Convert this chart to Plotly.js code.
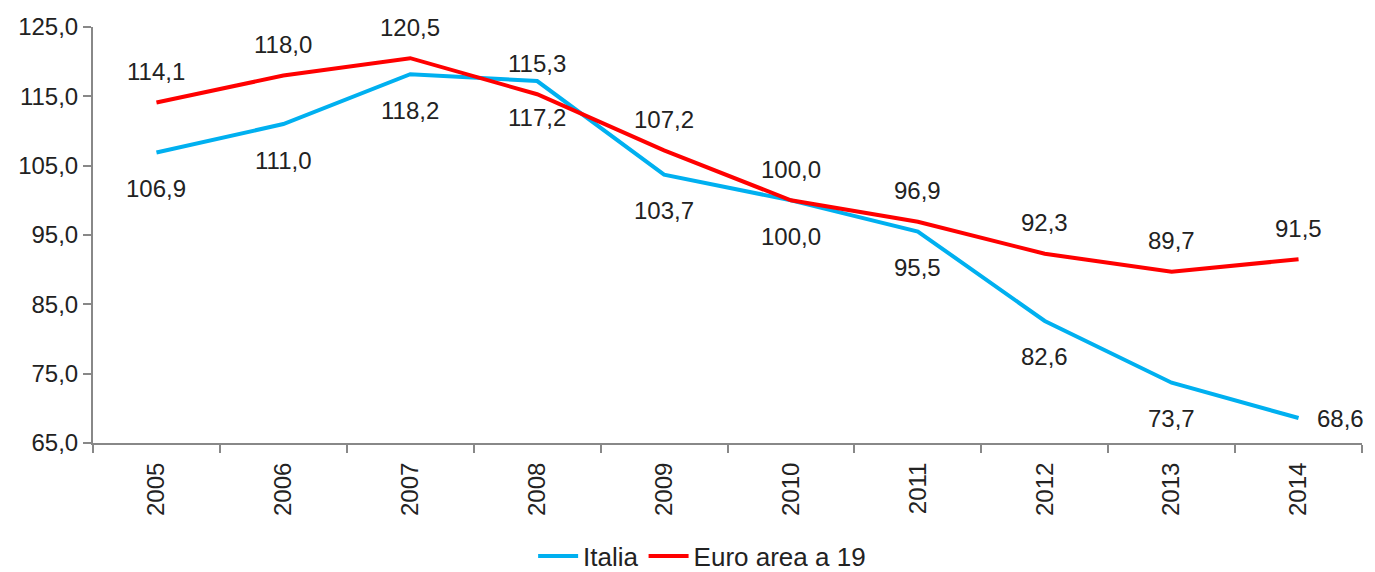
<!DOCTYPE html>
<html>
<head>
<meta charset="utf-8">
<script src="https://cdn.plot.ly/plotly-3.0.1.min.js"></script>
<style>html,body{margin:0;padding:0;background:#fff;}#chart{width:1375px;height:572px;}</style>
</head>
<body>
<div id="chart"></div>
<script>
const years = ["2005","2006","2007","2008","2009","2010","2011","2012","2013","2014"];
const italia = [106.9, 111.0, 118.2, 117.2, 103.7, 100.0, 95.5, 82.6, 73.7, 68.6];
const euro = [114.1, 118.0, 120.5, 115.3, 107.2, 100.0, 96.9, 92.3, 89.7, 91.5];
const yTicks = [65, 75, 85, 95, 105, 115, 125];

function fmt(v){ return v.toFixed(1).replace('.', ','); }

const traces = [
  {x: years, y: italia, name: "Italia", type: "scatter", mode: "lines",
   line: {color: "#00B0F0", width: 4}},
  {x: years, y: euro, name: "Euro area a 19", type: "scatter", mode: "lines",
   line: {color: "#FF0000", width: 4}}
];

const FONT = "Liberation Sans, Arial, sans-serif";
const annotations = [];
years.forEach(function(yr, i) {
  const last = i === years.length - 1;
  annotations.push({x: i, y: italia[i], xref: "x", yref: "y", text: fmt(italia[i]),
    showarrow: false, font: {family: FONT, size: 24, color: "#222"},
    xshift: last ? 42 : 0, yshift: last ? 0 : -36});
  annotations.push({x: i, y: euro[i], xref: "x", yref: "y", text: fmt(euro[i]),
    showarrow: false, font: {family: FONT, size: 24, color: "#222"}, yshift: 31});
});

const layout = {
  width: 1375, height: 572,
  margin: {l: 93, r: 13, t: 27, b: 129},
  paper_bgcolor: "#fff", plot_bgcolor: "#fff",
  showlegend: true,
  legend: {orientation: "h", xref: "paper", yref: "container", x: 0.48, xanchor: "center",
    y: 0.028, yanchor: "middle", itemwidth: 40,
    font: {family: FONT, size: 26, color: "#222"}},
  xaxis: {type: "category", showgrid: false, zeroline: false,
    showline: true, linecolor: "#888", linewidth: 2,
    ticks: "outside", tickson: "boundaries", ticklen: 8, tickcolor: "#888", tickwidth: 2,
    ticklabelstandoff: 8,
    tickangle: -90, tickfont: {family: FONT, size: 24, color: "#222"},
    range: [-0.5, 9.5], automargin: false},
  yaxis: {range: [65, 125], tickvals: yTicks, ticktext: yTicks.map(fmt),
    showgrid: false, zeroline: false, showline: true, linecolor: "#888", linewidth: 2,
    ticks: "outside", ticklen: 8, tickcolor: "#888", tickwidth: 2, automargin: false,
    tickfont: {family: FONT, size: 24, color: "#222"}},
  annotations: annotations
};

Plotly.newPlot("chart", traces, layout, {displayModeBar: false, staticPlot: true});
</script>
</body>
</html>
